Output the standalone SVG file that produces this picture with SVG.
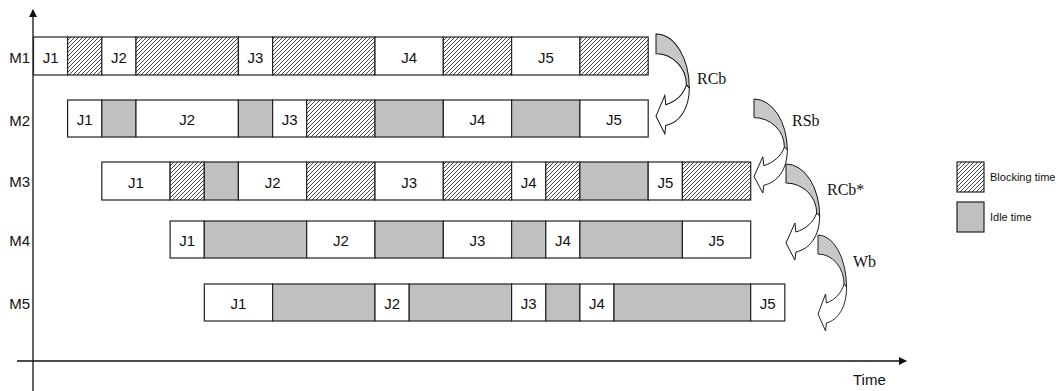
<svg xmlns="http://www.w3.org/2000/svg" xmlns:xlink="http://www.w3.org/1999/xlink" width="1058" height="391" viewBox="0 0 1058 391">
<style>
.j{fill:#fff;stroke:#222;stroke-width:1.2}
.b{fill:url(#hatch);stroke:#222;stroke-width:1.2}
.i{fill:#c0c0c0;stroke:#222;stroke-width:1.2}
.t{font-family:"Liberation Sans",Arial,sans-serif;font-size:15px;fill:#111;text-anchor:middle}
.m{font-family:"Liberation Sans",Arial,sans-serif;font-size:15px;fill:#111;text-anchor:end}
.s{font-family:"Liberation Serif","Times New Roman",serif;font-size:16px;fill:#111}
.lg{font-family:"Liberation Sans",Arial,sans-serif;font-size:11px;fill:#111}
.ax{stroke:#111;stroke-width:1.3;fill:none}
.back{fill:#c8c8c8;stroke:#111;stroke-width:1}
.front{fill:#fff;stroke:#111;stroke-width:1}
</style>
<defs>
<pattern id="hatch" patternUnits="userSpaceOnUse" width="4" height="4">
<rect width="4" height="4" fill="#fff"/>
<path d="M-1,1 l2,-2 M0,4 l4,-4 M3,5 l2,-2" stroke="#333" stroke-width="0.9"/>
</pattern>
<marker id="ah" markerWidth="8" markerHeight="8" refX="7" refY="4" orient="auto" markerUnits="userSpaceOnUse">
<path d="M0,0 L8,4 L0,8 Z" fill="#111"/>
</marker>
<g id="carrow">
<path class="back" d="M0,0 A34,52 0 0 1 34,52 L31,49 A31,30 0 0 0 0,19 Z"/>
<path class="front" d="M31,49 C28,58 20,65 10,68 L9,59 L0,79 L9,96 L10,88 C24,85 34,72 34,52 Z"/>
</g>
</defs>
<rect width="1058" height="391" fill="#fff"/>

<g id="axes">
<line class="ax" x1="33" y1="391" x2="33" y2="10" marker-end="url(#ah)"/>
<line class="ax" x1="17" y1="361" x2="906" y2="361" marker-end="url(#ah)"/>
<text class="lg" x="853" y="385" style="font-size:15px">Time</text>
</g>

<g id="labels">
<text class="m" x="30" y="63">M1</text>
<text class="m" x="30" y="125.5">M2</text>
<text class="m" x="30" y="187">M3</text>
<text class="m" x="30" y="246">M4</text>
<text class="m" x="30" y="309">M5</text>
</g>

<g id="M1">
<rect class="j" x="33.5" y="37" width="34.1" height="38"/>
<rect class="b" x="67.6" y="37" width="34.2" height="38"/>
<rect class="j" x="101.8" y="37" width="34.2" height="38"/>
<rect class="b" x="136" y="37" width="102.4" height="38"/>
<rect class="j" x="238.4" y="37" width="34.2" height="38"/>
<rect class="b" x="272.6" y="37" width="102.4" height="38"/>
<rect class="j" x="375" y="37" width="68.3" height="38"/>
<rect class="b" x="443.3" y="37" width="68.3" height="38"/>
<rect class="j" x="511.6" y="37" width="68.3" height="38"/>
<rect class="b" x="579.9" y="37" width="68.3" height="38"/>
<text class="t" x="50.6" y="62.5">J1</text>
<text class="t" x="118.9" y="62.5">J2</text>
<text class="t" x="255.5" y="62.5">J3</text>
<text class="t" x="409.2" y="62.5">J4</text>
<text class="t" x="545.8" y="62.5">J5</text>
</g>

<g id="M2">
<rect class="j" x="67.6" y="100" width="34.2" height="37"/>
<rect class="i" x="101.8" y="100" width="34.2" height="37"/>
<rect class="j" x="136" y="100" width="102.4" height="37"/>
<rect class="i" x="238.4" y="100" width="34.2" height="37"/>
<rect class="j" x="272.6" y="100" width="34.1" height="37"/>
<rect class="b" x="306.7" y="100" width="68.3" height="37"/>
<rect class="i" x="375" y="100" width="68.3" height="37"/>
<rect class="j" x="443.3" y="100" width="68.3" height="37"/>
<rect class="i" x="511.6" y="100" width="68.3" height="37"/>
<rect class="j" x="579.9" y="100" width="68.3" height="37"/>
<text class="t" x="84.7" y="125">J1</text>
<text class="t" x="187.2" y="125">J2</text>
<text class="t" x="289.6" y="125">J3</text>
<text class="t" x="477.5" y="125">J4</text>
<text class="t" x="614" y="125">J5</text>
</g>

<g id="M3">
<rect class="j" x="101.8" y="162" width="68.3" height="38"/>
<rect class="b" x="170.1" y="162" width="34.2" height="38"/>
<rect class="i" x="204.3" y="162" width="34.1" height="38"/>
<rect class="j" x="238.4" y="162" width="68.3" height="38"/>
<rect class="b" x="306.7" y="162" width="68.3" height="38"/>
<rect class="j" x="375" y="162" width="68.3" height="38"/>
<rect class="b" x="443.3" y="162" width="68.3" height="38"/>
<rect class="j" x="511.6" y="162" width="34.2" height="38"/>
<rect class="b" x="545.8" y="162" width="34.1" height="38"/>
<rect class="i" x="579.9" y="162" width="68.3" height="38"/>
<rect class="j" x="648.2" y="162" width="34.2" height="38"/>
<rect class="b" x="682.4" y="162" width="68.3" height="38"/>
<text class="t" x="136" y="187.5">J1</text>
<text class="t" x="272.6" y="187.5">J2</text>
<text class="t" x="409.2" y="187.5">J3</text>
<text class="t" x="528.7" y="187.5">J4</text>
<text class="t" x="665.3" y="187.5">J5</text>
</g>

<g id="M4">
<rect class="j" x="170.1" y="221" width="34.2" height="37"/>
<rect class="i" x="204.3" y="221" width="102.4" height="37"/>
<rect class="j" x="306.7" y="221" width="68.3" height="37"/>
<rect class="i" x="375" y="221" width="68.3" height="37"/>
<rect class="j" x="443.3" y="221" width="68.3" height="37"/>
<rect class="i" x="511.6" y="221" width="34.2" height="37"/>
<rect class="j" x="545.8" y="221" width="34.1" height="37"/>
<rect class="i" x="579.9" y="221" width="102.5" height="37"/>
<rect class="j" x="682.4" y="221" width="68.3" height="37"/>
<text class="t" x="187.2" y="246">J1</text>
<text class="t" x="340.9" y="246">J2</text>
<text class="t" x="477.5" y="246">J3</text>
<text class="t" x="562.8" y="246">J4</text>
<text class="t" x="716.5" y="246">J5</text>
</g>

<g id="M5">
<rect class="j" x="204.3" y="284" width="68.3" height="37"/>
<rect class="i" x="272.6" y="284" width="102.4" height="37"/>
<rect class="j" x="375" y="284" width="34.2" height="37"/>
<rect class="i" x="409.2" y="284" width="102.4" height="37"/>
<rect class="j" x="511.6" y="284" width="34.2" height="37"/>
<rect class="i" x="545.8" y="284" width="34.1" height="37"/>
<rect class="j" x="579.9" y="284" width="34.1" height="37"/>
<rect class="i" x="614" y="284" width="136.7" height="37"/>
<rect class="j" x="750.7" y="284" width="34.1" height="37"/>
<text class="t" x="238.4" y="309">J1</text>
<text class="t" x="392.1" y="309">J2</text>
<text class="t" x="528.7" y="309">J3</text>
<text class="t" x="597" y="309">J4</text>
<text class="t" x="767.7" y="309">J5</text>
</g>

<g id="connectors">
<use xlink:href="#carrow" transform="translate(656,34) scale(0.98,1.04)"/>
<use xlink:href="#carrow" transform="translate(754,99) scale(0.98,0.98)"/>
<use xlink:href="#carrow" transform="translate(786,164) scale(0.99,1)"/>
<use xlink:href="#carrow" transform="translate(818,235) scale(0.84,1)"/>
<text class="s" x="697" y="84">RCb</text>
<text class="s" x="792" y="126">RSb</text>
<text class="s" x="827" y="195">RCb*</text>
<text class="s" x="853" y="267">Wb</text>
</g>

<g id="legend">
<rect class="b" x="957" y="162" width="27" height="30"/>
<text class="lg" x="990" y="181">Blocking time</text>
<rect class="i" x="957" y="202" width="27" height="30"/>
<text class="lg" x="990" y="221">Idle time</text>
</g>
</svg>
